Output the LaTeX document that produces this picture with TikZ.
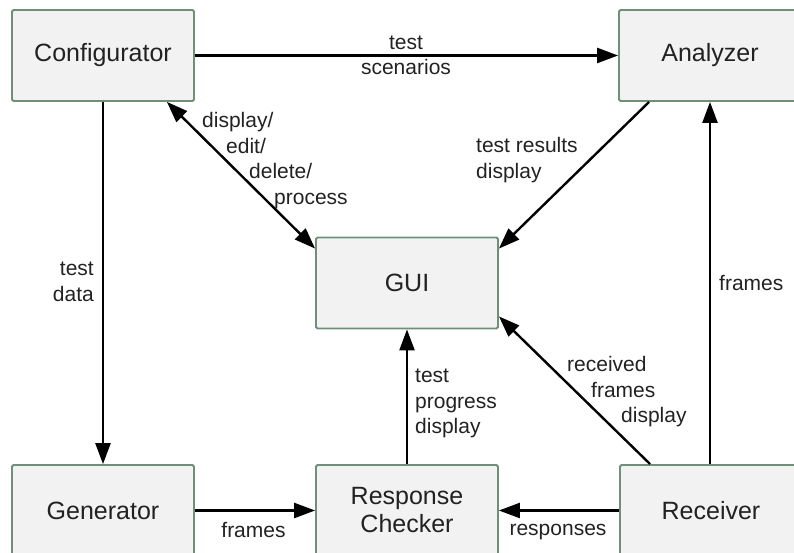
\documentclass[tikz,border=0pt]{standalone}
\usepackage{fontspec}
\setmainfont{Liberation Sans}
\usetikzlibrary{arrows.meta,calc}
\definecolor{boxedge}{HTML}{6E9079}
\definecolor{boxfill}{HTML}{F2F2F2}
\definecolor{txt}{HTML}{222222}
\tikzset{
  blk/.style={draw=boxedge, line width=1.8pt, fill=boxfill, rounded corners=1.5pt,
    minimum width=182pt, minimum height=91pt, inner sep=0pt, align=center,
    text=txt, font={\fontsize{25}{30}\selectfont}},
  lbl/.style={inner sep=0pt, text=txt, font={\fontsize{21}{25.5}\selectfont}},
  flow/.style={line width=2.4pt, -{Triangle[length=21pt,width=15pt]}},
  flow2/.style={line width=2.4pt, {Triangle[length=21pt,width=15pt]}-{Triangle[length=21pt,width=15pt]}}
}
\begin{document}
\begin{tikzpicture}[x=1pt,y=-1pt]
\useasboundingbox (0,0) rectangle (794,553);
\clip (0,0) rectangle (794,553);
\node[blk] (conf) at (103,55.5) {Configurator};
\node[blk] (ana) at (710,55.5) {Analyzer};
\node[blk] (gui) at (407,283) {GUI};
\node[blk] (gen) at (103,510.5) {Generator};
\node[blk] (rc) at (407,510.5) {Response\\[-2pt]Checker};
\node[blk] (rec) at (711,510.5) {Receiver};

\draw[flow] (conf.east) -- (ana.west);
\draw[flow] (conf.south) -- (gen.north);
\draw[flow2] ($(conf.south east)+(-28,0)$) -- ($(gui.north west)+(0,12)$);
\draw[flow] ($(ana.south west)+(31,0)$) -- ($(gui.north east)+(0,12)$);
\draw[flow] (rec.north -| ana.south) -- (ana.south);
\draw[flow] ($(rec.north west)+(31,0)$) -- ($(gui.south east)+(0,-13)$);
\draw[flow] (rc.north) -- (gui.south);
\draw[flow] (rec.west) -- (rc.east);
\draw[flow] (gen.east) -- (rc.west);

\node[lbl, align=center] (lscen) at (406,55.5) {test\\scenarios};
\node[lbl, align=right, anchor=east] (ldata) at (94,282) {test\\data};
\node[lbl, align=left, anchor=west] (ldisp) at (202,160.5) {display/\\\hspace*{24pt}edit/\\\hspace*{47pt}delete/\\\hspace*{72pt}process};
\node[lbl, align=left, anchor=west] (lres) at (476,160) {test results\\display};
\node[lbl, anchor=west] (lfr1) at (719,283) {frames};
\node[lbl, align=left, anchor=west] (lrecv) at (567,392) {received\\\hspace*{24pt}frames\\\hspace*{54pt}display};
\node[lbl, align=left, anchor=west] (lprog) at (415,403.5) {test\\progress\\display};
\node[lbl] (lresp) at (558,532) {responses};
\node[lbl] (lfr2) at (253.5,530) {frames};
\end{tikzpicture}
\end{document}
